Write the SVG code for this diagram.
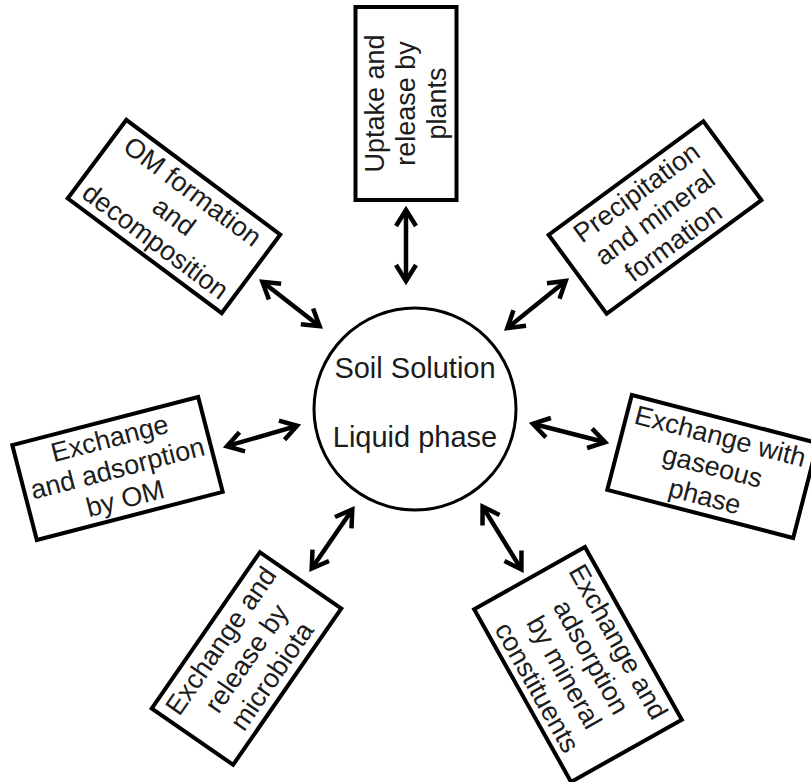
<svg xmlns="http://www.w3.org/2000/svg" width="811" height="782" viewBox="0 0 811 782">
  <style>
    .box rect { fill: #fff; stroke: #000; stroke-width: 4; }
    .lbl { font-family: "Liberation Sans", Arial, sans-serif; font-size: 27px; text-anchor: middle; fill: #1c1c1c; }
    .hub circle { fill: #fff; stroke: #000; stroke-width: 3; }
    .hub text { font-size: 29px; }
    .link { stroke: #000; stroke-width: 4.5; fill: none; marker-start: url(#tip); marker-end: url(#tip); }
  </style>
  <defs>
    <marker id="tip" markerUnits="userSpaceOnUse" viewBox="-20 -20 40 40" markerWidth="40" markerHeight="40" refX="0" refY="0" orient="auto-start-reverse" overflow="visible">
      <path d="M-16,-10 L0,0 L-16,10" fill="none" stroke="#000" stroke-width="4.5" stroke-linejoin="miter"/>
    </marker>
  </defs>
  <rect width="811" height="782" fill="#fff"/>

  <!-- connectors: double-headed arrows between the hub and each process -->
  <g id="connectors">
    <line class="link" x1="406" y1="210" x2="406" y2="281"/>
    <line class="link" x1="262.4" y1="281.8" x2="319.6" y2="326.2"/>
    <line class="link" x1="565.7" y1="280.9" x2="507.3" y2="328.1"/>
    <line class="link" x1="226.9" y1="446.2" x2="297.1" y2="425.8"/>
    <line class="link" x1="532.9" y1="423.7" x2="605.1" y2="442.3"/>
    <line class="link" x1="311.7" y1="568.5" x2="352.3" y2="509.5"/>
    <line class="link" x1="482.6" y1="506.6" x2="521.4" y2="569.4"/>
  </g>

  <!-- central hub -->
  <g id="soil-solution" class="hub">
    <circle cx="415" cy="409" r="101"/>
    <text class="lbl" x="415" y="378">Soil Solution</text>
    <text class="lbl" x="415" y="447">Liquid phase</text>
  </g>

  <g id="plants" class="box" transform="translate(406,103.5) rotate(-90)">
    <rect x="-96.5" y="-50.5" width="193" height="101"/>
    <text class="lbl" x="0" y="-22">Uptake and</text>
    <text class="lbl" x="0" y="9">release by</text>
    <text class="lbl" x="0" y="40">plants</text>
  </g>

  <g id="om-formation" class="box" transform="translate(174,216.5) rotate(36.7)">
    <rect x="-96" y="-49" width="192" height="98"/>
    <text class="lbl" x="0" y="-22">OM formation</text>
    <text class="lbl" x="0" y="9">and</text>
    <text class="lbl" x="0" y="40">decomposition</text>
  </g>

  <g id="precipitation" class="box" transform="translate(655,217.5) rotate(-36.3)">
    <rect x="-96" y="-49" width="192" height="98"/>
    <text class="lbl" x="0" y="-22">Precipitation</text>
    <text class="lbl" x="0" y="9">and mineral</text>
    <text class="lbl" x="0" y="40">formation</text>
  </g>

  <g id="om-exchange" class="box" transform="translate(117.5,468.5) rotate(-14.5)">
    <rect x="-96" y="-49" width="192" height="98"/>
    <text class="lbl" x="0" y="-22">Exchange</text>
    <text class="lbl" x="0" y="9">and adsorption</text>
    <text class="lbl" x="0" y="40">by OM</text>
  </g>

  <g id="gaseous" class="box" transform="translate(712.5,466.5) rotate(14.5)">
    <rect x="-96" y="-49" width="192" height="98"/>
    <text class="lbl" x="0" y="-22">Exchange with</text>
    <text class="lbl" x="0" y="9">gaseous</text>
    <text class="lbl" x="0" y="40">phase</text>
  </g>

  <g id="microbiota" class="box" transform="translate(246.5,658.5) rotate(-55.3)">
    <rect x="-95" y="-49.5" width="190" height="99"/>
    <text class="lbl" x="0" y="-22">Exchange and</text>
    <text class="lbl" x="0" y="9">release by</text>
    <text class="lbl" x="0" y="40">microbiota</text>
  </g>

  <g id="mineral" class="box" transform="translate(578,664.5) rotate(60.7)">
    <rect x="-99" y="-63.5" width="198" height="127"/>
    <text class="lbl" x="0" y="-37">Exchange and</text>
    <text class="lbl" x="0" y="-6">adsorption</text>
    <text class="lbl" x="0" y="25">by mineral</text>
    <text class="lbl" x="0" y="56">constituents</text>
  </g>
</svg>
